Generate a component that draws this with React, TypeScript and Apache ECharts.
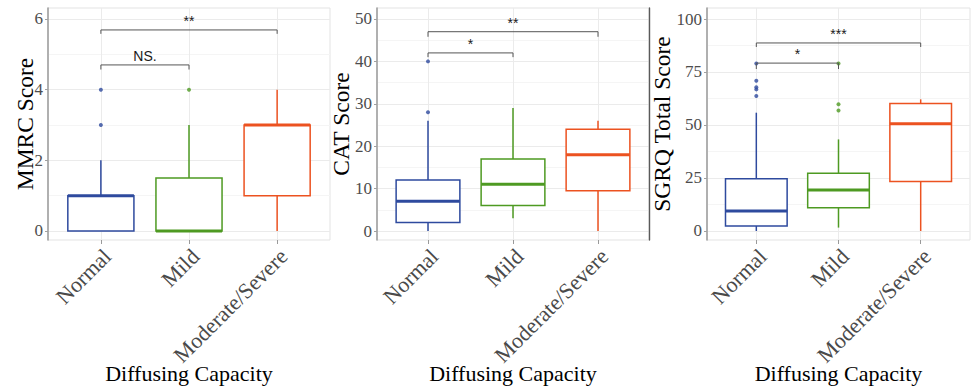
import React, { useEffect, useRef } from "react";
import * as echarts from "echarts";

const categories = ["Normal", "Mild", "Moderate/Severe"];
const groupColors = ["#2E4A9E", "#4E9A22", "#EC5220"];
const xTitle = "Diffusing Capacity";
const yTitles = ["MMRC Score", "CAT Score", "SGRQ Total Score"];

// box stats per category: [low whisker, q1, median, q3, high whisker]
const mmrcBoxes = [
  [0, 0, 1, 1, 2],
  [0, 0, 0, 1.5, 3],
  [0, 1, 3, 3, 4],
];
const catBoxes = [
  [0, 2, 7, 12, 26],
  [3, 6, 11, 17, 29],
  [0, 9.5, 18, 24, 26],
];
const sgrqBoxes = [
  [0, 2.4, 9.4, 24.7, 55.8],
  [1.6, 11, 19.3, 27.2, 43.2],
  [0, 23.3, 50.6, 60.1, 62.1],
];

// outliers: [category index, value]
const mmrcOutliers = [[0, 3], [0, 4], [1, 4]];
const catOutliers = [[0, 28], [0, 40]];
const sgrqOutliers = [
  [0, 63.7], [0, 66.8], [0, 67.8], [0, 70.9], [0, 79],
  [1, 56.8], [1, 59.8], [1, 79],
];

// significance brackets: [from, to, line value, tip value]
const mmrcBrackets = [[0, 1, 4.7, 4.57], [0, 2, 5.69, 5.58]];
const mmrcBracketLabels = ["NS.", "**"];
const catBrackets = [[0, 1, 42, 41], [0, 2, 47, 45.8]];
const catBracketLabels = ["*", "**"];
const sgrqBrackets = [[0, 2, 88.7, 86.8], [0, 1, 79.2, 76.4]];
const sgrqBracketLabels = ["***", "*"];

// y axis ticks
const mmrcMajor = [0, 2, 4, 6];
const mmrcMinor = [1, 3, 5];
const catMajor = [0, 10, 20, 30, 40, 50];
const catMinor = [5, 15, 25, 35, 45];
const sgrqMajor = [0, 25, 50, 75, 100];
const sgrqMinor = [12.5, 37.5, 62.5, 87.5];
const yRanges = [[-0.255, 6.311], [-2.12, 52.59], [-4.25, 105.19]];

const panels = [
  { boxes: mmrcBoxes, outliers: mmrcOutliers, brackets: mmrcBrackets, labels: mmrcBracketLabels, major: mmrcMajor, minor: mmrcMinor },
  { boxes: catBoxes, outliers: catOutliers, brackets: catBrackets, labels: catBracketLabels, major: catMajor, minor: catMinor },
  { boxes: sgrqBoxes, outliers: sgrqOutliers, brackets: sgrqBrackets, labels: sgrqBracketLabels, major: sgrqMajor, minor: sgrqMinor },
];

const layout = [
  { left: 48, width: 282, nameGap: 11 },
  { left: 377, width: 272, nameGap: 24 },
  { left: 707, width: 263, nameGap: 33 },
];

const SERIF = "Liberation Serif";
const SANS = "Liberation Sans";

function buildOption() {
  const grid: any[] = [];
  const xAxis: any[] = [];
  const yAxis: any[] = [];
  const series: any[] = [];
  const catIdx = categories.map((_, i) => i);

  panels.forEach((p, i) => {
    grid.push({
      left: layout[i].left,
      top: 8,
      width: layout[i].width,
      height: 232,
      show: true,
      borderColor: "#e3e3e3",
      borderWidth: 1,
      containLabel: false,
      outerBoundsMode: "none",
    });
    xAxis.push({
      type: "value",
      gridIndex: i,
      min: -0.6,
      max: 2.6,
      axisLine: { show: false, onZero: false },
      axisTick: { show: true, length: 4, customValues: catIdx, lineStyle: { color: "#9a9a9a" } },
      axisLabel: {
        customValues: catIdx,
        formatter: (v: number) => categories[Math.round(v)] || "",
        rotate: 45,
        fontFamily: SERIF,
        fontSize: 22,
        color: "#4a4a4a",
        margin: 19,
        padding: [0, -9, 0, 0],
      },
      splitLine: { show: true, lineStyle: { color: "#ebebeb", width: 1 } },
      name: xTitle,
      nameLocation: "middle",
      nameGap: 122,
      nameMoveOverlap: false,
      nameTextStyle: { fontFamily: SERIF, fontSize: 22, color: "#000" },
    });
    yAxis.push({
      type: "value",
      gridIndex: i,
      min: yRanges[i][0],
      max: yRanges[i][1],
      axisLine: { show: true, onZero: false, lineStyle: { color: "#a0a0a0", width: 1.6 } },
      axisTick: { show: true, length: 3, customValues: p.major, lineStyle: { color: "#a0a0a0" } },
      axisLabel: {
        customValues: p.major,
        fontFamily: SERIF,
        fontSize: 17,
        color: "#4d4d4d",
        margin: 5,
      },
      splitLine: { show: true, lineStyle: { color: "#ebebeb", width: 1 } },
      name: yTitles[i],
      nameLocation: "middle",
      nameGap: layout[i].nameGap,
      nameMoveOverlap: false,
      nameTextStyle: { fontFamily: SERIF, fontSize: 23.5, color: "#000" },
    });
  });

  panels.forEach((p, i) => {
    yAxis.push({
      type: "value",
      gridIndex: i,
      min: yRanges[i][0],
      max: yRanges[i][1],
      position: i === 1 ? "right" : "left",
      axisLine: { show: i === 1, onZero: false, lineStyle: { color: "#5a5a5a", width: 1.4 } },
      axisTick: { show: false, customValues: p.minor },
      axisLabel: { show: false },
      splitLine: { show: true, lineStyle: { color: "#f5f5f5", width: 1 } },
    });
  });

  panels.forEach((p, i) => {
    series.push({
      type: "custom",
      xAxisIndex: i,
      yAxisIndex: i,
      data: p.boxes.map((b, k) => [k, ...b]),
      encode: { x: 0, y: [1, 2, 3, 4, 5] },
      z: 3,
      renderItem: (params: any, api: any) => {
        const x = api.value(0);
        const color = groupColors[x];
        const w = api.size([0.75, 0])[0];
        const low = api.coord([x, api.value(1)]);
        const q1 = api.coord([x, api.value(2)]);
        const med = api.coord([x, api.value(3)]);
        const q3 = api.coord([x, api.value(4)]);
        const high = api.coord([x, api.value(5)]);
        const cx = low[0];
        return {
          type: "group",
          children: [
            { type: "line", shape: { x1: cx, y1: high[1], x2: cx, y2: q3[1] }, style: { stroke: color, lineWidth: 1.5 } },
            { type: "line", shape: { x1: cx, y1: q1[1], x2: cx, y2: low[1] }, style: { stroke: color, lineWidth: 1.5 } },
            {
              type: "rect",
              shape: { x: cx - w / 2, y: q3[1], width: w, height: q1[1] - q3[1] },
              style: { fill: "#ffffff", stroke: color, lineWidth: 1.5 },
            },
            { type: "line", shape: { x1: cx - w / 2, y1: med[1], x2: cx + w / 2, y2: med[1] }, style: { stroke: color, lineWidth: 3 } },
          ],
        };
      },
    });
    series.push({
      type: "scatter",
      xAxisIndex: i,
      yAxisIndex: i,
      data: p.outliers,
      symbol: "circle",
      symbolSize: 4,
      z: 4,
      itemStyle: { color: (prm: any) => groupColors[prm.data[0]] },
    });
    series.push({
      type: "custom",
      xAxisIndex: i,
      yAxisIndex: i,
      data: p.brackets,
      encode: { x: [0, 1], y: [2, 3] },
      z: 5,
      renderItem: (params: any, api: any) => {
        const a = api.coord([api.value(0), api.value(2)]);
        const b = api.coord([api.value(1), api.value(2)]);
        const t = api.coord([api.value(0), api.value(3)]);
        return {
          type: "group",
          children: [
            {
              type: "polyline",
              shape: { points: [[a[0], t[1]], [a[0], a[1]], [b[0], b[1]], [b[0], t[1]]] },
              style: { stroke: "#555555", lineWidth: 1, fill: "none" },
            },
            {
              type: "text",
              x: (a[0] + b[0]) / 2,
              y: a[1] - 2,
              style: {
                text: p.labels[params.dataIndex],
                fill: "#1a1a1a",
                fontFamily: SANS,
                fontSize: 14,
                align: "center",
                verticalAlign: "bottom",
              },
            },
          ],
        };
      },
    });
  });

  return {
    animation: false,
    backgroundColor: "#ffffff",
    grid,
    xAxis,
    yAxis,
    series,
  };
}

export default function App() {
  const ref = useRef<HTMLDivElement>(null);
  useEffect(() => {
    document.body.style.margin = "0";
    if (!ref.current) return;
    const chart = echarts.init(ref.current, undefined, { renderer: "svg" });
    chart.setOption(buildOption());
    return () => chart.dispose();
  }, []);
  return <div ref={ref} style={{ width: 972, height: 390 }} />;
}
